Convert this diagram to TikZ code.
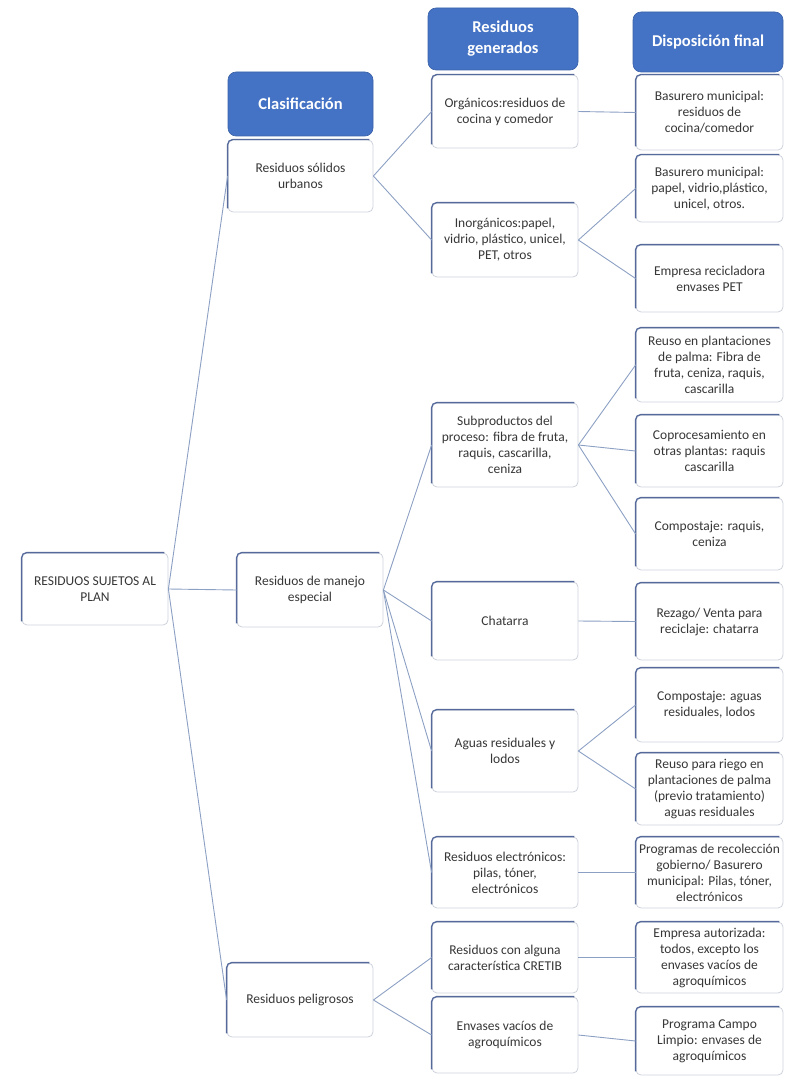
\documentclass[tikz,border=0pt]{standalone}
\usepackage{fontspec}
\setmainfont{Carlito}
\definecolor{hdrblue}{RGB}{68,114,196}
\definecolor{boxline}{RGB}{205,210,220}
\definecolor{edgec}{RGB}{85,105,155}
\definecolor{connc}{RGB}{140,160,195}
\definecolor{txt}{RGB}{55,55,55}
\begin{document}
\begin{tikzpicture}[x=1pt,y=-1pt,
  box/.style={draw=boxline, line width=0.8pt, fill=white, rounded corners=5pt, align=center,
    font=\fontsize{13.5}{16}\selectfont, text=txt, inner sep=1.5pt},
  hdr/.style={fill=hdrblue, draw=hdrblue!85!black, line width=0.6pt, rounded corners=8pt, align=center,
    font=\fontsize{16.5}{21}\selectfont\bfseries, text=white, inner sep=2pt},
  conn/.style={draw=connc, line width=0.9pt},
  edgeL/.style={draw=edgec, line width=1.3pt, rounded corners=5pt}]
\useasboundingbox (0,0) rectangle (788,1078);
% headers
\node[hdr, minimum width=145pt, minimum height=64pt] (h1) at (300.5,104) {Clasificación};
\node[hdr, minimum width=150pt, minimum height=62pt] (h2) at (503,39) {Residuos\\generados};
\node[hdr, minimum width=150pt, minimum height=60pt] (h3) at (708,42) {Disposición final};
% root
\node[box, minimum width=146pt, minimum height=72pt] (root) at (95,589) {RESIDUOS SUJETOS AL\\PLAN};
% column 2
\node[box, minimum width=145pt, minimum height=72pt] (rsu) at (300.5,176) {Residuos sólidos\\urbanos};
\node[box, minimum width=146pt, minimum height=74pt] (me) at (310,590) {Residuos de manejo\\especial};
\node[box, minimum width=146pt, minimum height=74pt] (pel) at (300,1000) {Residuos peligrosos};
% column 3
\node[box, minimum width=146pt, minimum height=73pt] (org) at (505,111.5) {Orgánicos:residuos de\\cocina y comedor};
\node[box, minimum width=146pt, minimum height=74pt] (inorg) at (505,240) {Inorgánicos:papel,\\vidrio, plástico, unicel,\\PET, otros};
\node[box, minimum width=146pt, minimum height=84pt] (sub) at (505,445) {Subproductos del\\proceso: fibra de fruta,\\raquis, cascarilla,\\ceniza};
\node[box, minimum width=146pt, minimum height=78pt] (chat) at (505,621) {Chatarra};
\node[box, minimum width=146pt, minimum height=82pt] (agu) at (505,751) {Aguas residuales y\\lodos};
\node[box, minimum width=146pt, minimum height=71pt] (elec) at (505,872.5) {Residuos electrónicos:\\pilas, tóner,\\electrónicos};
\node[box, minimum width=146pt, minimum height=71pt] (cret) at (505,957.5) {Residuos con alguna\\característica CRETIB};
\node[box, minimum width=146pt, minimum height=76pt] (env) at (505,1035) {Envases vacíos de\\agroquímicos};
% column 4
\node[box, minimum width=147pt, minimum height=75pt] (bc) at (709.5,112.5) {Basurero municipal:\\residuos de\\cocina/comedor};
\node[box, minimum width=147pt, minimum height=67pt] (bp) at (709.5,188.5) {Basurero municipal:\\papel, vidrio,plástico,\\unicel, otros.};
\node[box, minimum width=147pt, minimum height=67pt] (pet) at (709.5,278.5) {Empresa recicladora\\envases PET};
\node[box, minimum width=147pt, minimum height=74pt] (reu) at (709.5,365) {Reuso en plantaciones\\de palma: Fibra de\\fruta, ceniza, raquis,\\cascarilla};
\node[box, minimum width=147pt, minimum height=72pt] (cop) at (709.5,451) {Coprocesamiento en\\otras plantas: raquis\\cascarilla};
\node[box, minimum width=147pt, minimum height=72pt] (comr) at (709.5,534) {Compostaje: raquis,\\ceniza};
\node[box, minimum width=147pt, minimum height=77pt] (rez) at (709.5,621.5) {Rezago/ Venta para\\reciclaje: chatarra};
\node[box, minimum width=147pt, minimum height=74pt] (coma) at (709.5,705) {Compostaje: aguas\\residuales, lodos};
\node[box, minimum width=147pt, minimum height=72pt] (rie) at (709.5,789) {Reuso para riego en\\plantaciones de palma\\(previo tratamiento)\\aguas residuales};
\node[box, minimum width=147pt, minimum height=71pt] (prog) at (709.5,872.5) {Programas de recolección\\gobierno/ Basurero\\municipal: Pilas, tóner,\\electrónicos};
\node[box, minimum width=147pt, minimum height=71pt] (emp) at (709.5,957.5) {Empresa autorizada:\\todos, excepto los\\envases vacíos de\\agroquímicos};
\node[box, minimum width=147pt, minimum height=68pt] (cam) at (709.5,1041) {Programa Campo\\Limpio: envases de\\agroquímicos};
% dark left/top edges
\foreach \n in {root,rsu,me,pel,org,inorg,sub,chat,agu,elec,cret,env,bc,bp,pet,reu,cop,comr,rez,coma,rie,prog,emp,cam}
  \draw[edgeL] ([yshift=4pt]\n.south west) -- (\n.north west) -- ([xshift=-4pt]\n.north east);
% connectors
\foreach \a/\b in {root/rsu,root/me,root/pel,rsu/org,rsu/inorg,me/sub,me/chat,me/agu,me/elec,pel/cret,pel/env,
  org/bc,inorg/bp,inorg/pet,sub/reu,sub/cop,sub/comr,chat/rez,agu/coma,agu/rie,elec/prog,cret/emp,env/cam}
  \draw[conn] (\a.east) -- (\b.west);
\end{tikzpicture}
\end{document}
